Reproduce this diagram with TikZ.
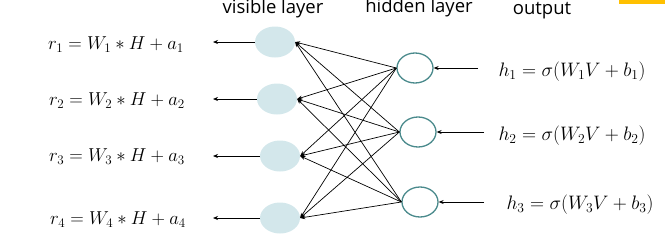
\RequirePackage{fix-cm}
\documentclass[tikz,border=0pt]{standalone}
\usepackage{fontspec}
\setsansfont{Open Sans}
\usetikzlibrary{arrows.meta,shapes.geometric}
\definecolor{visfill}{HTML}{D3E7EB}
\definecolor{hidline}{HTML}{4A8A8C}
\definecolor{barc}{HTML}{FFC000}
\tikzset{
  vis/.style={ellipse,fill=visfill,minimum width=40pt,minimum height=31pt,inner sep=0pt},
  hid/.style={ellipse,draw=hidline,line width=1.3pt,fill=white,minimum width=36pt,minimum height=30pt,inner sep=0pt},
  conn/.style={-{Stealth[length=5pt,width=4pt]},line width=0.7pt,black},
  eqn/.style={font=\fontsize{18.7}{20}\selectfont,inner sep=0pt},
  eqh/.style={font=\fontsize{19.5}{21}\selectfont,inner sep=0pt},
  head/.style={font=\sffamily\fontsize{18.5}{20}\selectfont,inner sep=0pt}
}
\begin{document}
\begin{tikzpicture}[x=1pt,y=-1pt]
\useasboundingbox (0,0) rectangle (665,234);
\fill[barc] (619,0) rectangle (665,4);
% headings
\node[head] (hv) at (273,9) {visible layer};
\node[head] (hh) at (419,8) {hidden layer};
\node[head] (ho) at (542,11) {output};
% visible nodes
\node[vis] (v1) at (275,42) {};
\node[vis] (v2) at (277,99) {};
\node[vis] (v3) at (280,156) {};
\node[vis] (v4) at (280,218) {};
% hidden nodes
\node[hid] (h1) at (415,68) {};
\node[hid] (h2) at (418,132) {};
\node[hid] (h3) at (420,202) {};
% equations
\node[eqn] (r1) at (116,45) {$r_1 = W_1 * H + a_1$};
\node[eqn] (r2) at (117,101) {$r_2 = W_2 * H + a_2$};
\node[eqn] (r3) at (117,157) {$r_3 = W_3 * H + a_3$};
\node[eqn] (r4) at (118,220) {$r_4 = W_4 * H + a_4$};
\node[eqh] (e1) at (572,72) {$h_1 = \sigma(W_1V + b_1)$};
\node[eqh] (e2) at (572,136) {$h_2 = \sigma(W_2V + b_2)$};
\node[eqh] (e3) at (580,205) {$h_3 = \sigma(W_3V + b_3)$};
% free ends
\coordinate (l1) at (213,42);
\coordinate (l2) at (213,99);
\coordinate (l3) at (213,156);
\coordinate (l4) at (213,218);
\coordinate (q1) at (478,68);
\coordinate (q2) at (484,132);
\coordinate (q3) at (484,202);
\foreach \i in {1,2,3,4}{\draw[conn] (v\i.west) -- (l\i);}
\foreach \i in {1,2,3}{\draw[conn] (q\i) -- (h\i.east);}
\foreach \h in {1,2,3}{\foreach \v in {1,2,3,4}{\draw[conn] (h\h.west) -- (v\v.east);}}
\end{tikzpicture}
\end{document}
